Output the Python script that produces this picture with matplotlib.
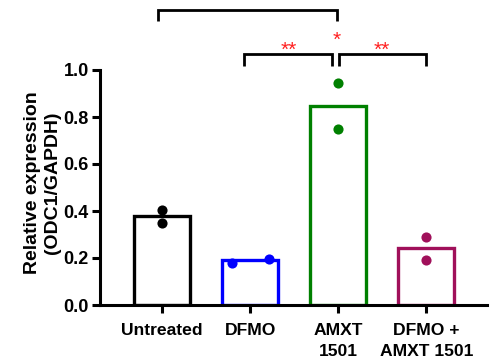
import matplotlib
matplotlib.use("Agg")
import matplotlib.pyplot as plt

categories = ["Untreated", "DFMO", "AMXT\n1501", "DFMO +\nAMXT 1501"]
means = [0.377, 0.19, 0.847, 0.241]
points = [[0.404, 0.349], [0.18, 0.197], [0.945, 0.749], [0.291, 0.191]]
colors = ["#000000", "#0000FF", "#008000", "#A0105A"]
yticks = [0.0, 0.2, 0.4, 0.6, 0.8, 1.0]
ylabel = "Relative expression\n(ODC1/GAPDH)"
star_labels = ["*", "**", "**"]

plt.rcParams['font.family'] = ['Liberation Sans', 'DejaVu Sans']
plt.rcParams['font.weight'] = 'bold'

fig = plt.figure(figsize=(4.94, 3.61), dpi=100)
ax = fig.add_axes([100/494, 1-305/361, 387/494, 235/361])

x = list(range(len(categories)))
ax.bar(x, means, width=0.64, facecolor='white', edgecolor=colors, linewidth=2.4, zorder=2)
offsets = [[0.0, 0.0], [-0.21, 0.21], [0.0, 0.0], [0.0, 0.0]]
for i, pts in enumerate(points):
    for p, o in zip(pts, offsets[i]):
        ax.plot(i + o, p, 'o', color=colors[i], markersize=7.3, markeredgewidth=0,
                zorder=3, clip_on=False)

ax.set_xlim(-0.705, 3.69)
ax.set_ylim(0, 1.0)
ax.set_yticks(yticks)
ax.set_yticklabels([f"{t:.1f}" for t in yticks], fontsize=13, fontweight='bold')
ax.set_xticks(x)
ax.set_xticklabels(categories, fontsize=12.6, fontweight='bold', linespacing=1.5)
ax.set_ylabel(ylabel, fontsize=14, fontweight='bold', linespacing=1.25)
ax.yaxis.set_label_coords(-0.1, 0.52)
for s in ['top', 'right']:
    ax.spines[s].set_visible(False)
for s in ['left', 'bottom']:
    ax.spines[s].set_linewidth(2.2)
ax.tick_params(axis='both', width=2.2, length=6)
ax.tick_params(axis='y', pad=2)
ax.tick_params(axis='x', pad=7)

def y_of(px):
    return (305 - px) / 235

def bracket(x1, x2, ytop, ybot):
    ax.plot([x1, x1, x2, x2], [ybot, ytop, ytop, ybot], color='black', lw=2.0,
            clip_on=False, solid_joinstyle='miter', solid_capstyle='butt')

def star(xc, ypx, label):
    ax.text(xc, y_of(ypx + 12), label, color='#FF2020', ha='center', va='baseline',
            fontsize=15, fontweight='normal', family='Liberation Sans')

bracket(-0.045, 1.99, y_of(10), y_of(21))
bracket(0.935, 1.935, y_of(53.5), y_of(66))
bracket(2.01, 3.0, y_of(53.5), y_of(66))
star(1.985, 34, star_labels[0])
star(1.44, 44, star_labels[1])
star(2.5, 44, star_labels[2])

fig.savefig("out.png", dpi=100)
